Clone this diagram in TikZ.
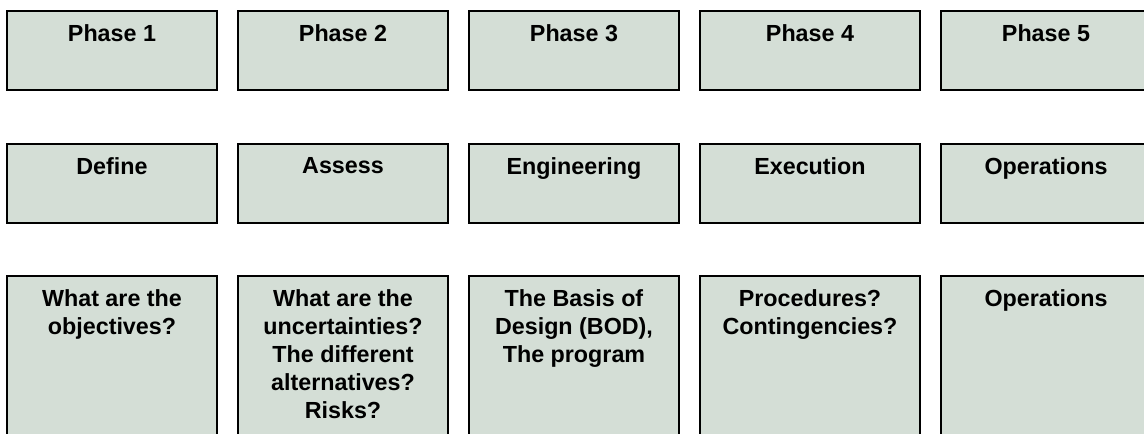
\documentclass[tikz,border=0pt]{standalone}
\usepackage{fontspec}
\setmainfont{Liberation Sans}
\usetikzlibrary{positioning}
\definecolor{boxfill}{RGB}{212,222,214}
\tikzset{
    %Define style for the boxes
    stagebox/.style={
           rectangle,
           draw=black, line width=2pt,
           fill=boxfill,
           minimum width=210pt,
           minimum height=79pt,
           inner sep=0pt},
    tallbox/.style={
           stagebox,
           minimum height=190pt},
    %Define style for the text at the top of a box
    boxtext/.style={
           anchor=north,
           inner sep=0pt,
           yshift=-14pt,
           align=center,
           font=\fontsize{23.3}{28}\selectfont\bfseries}
}
\begin{document}
\begin{tikzpicture}[x=1pt,y=1pt,node distance=20pt and 19pt]
\useasboundingbox (0,0) rectangle (1144,-434);
\clip (0,0) rectangle (1144,-434);

 %phases
\node[stagebox, anchor=north west, label={[boxtext]north:Phase 1}](p1) at (6,-10){};
\node[stagebox, right=of p1, label={[boxtext]north:Phase 2}](p2){};
\node[stagebox, right=of p2, label={[boxtext]north:Phase 3}](p3){};
\node[stagebox, right=of p3, minimum width=220pt, label={[boxtext]north:Phase 4}](p4){};
\node[stagebox, right=of p4, label={[boxtext]north:Phase 5}](p5){};

 %stages
\node[stagebox, below=52pt of p1, label={[boxtext]north:Define}](s1){};
\node[stagebox, below=52pt of p2, label={[boxtext]north:Assess}](s2){};
\node[stagebox, below=52pt of p3, label={[boxtext]north:Engineering}](s3){};
\node[stagebox, below=52pt of p4, minimum width=220pt, label={[boxtext]north:Execution}](s4){};
\node[stagebox, below=52pt of p5, label={[boxtext]north:Operations}](s5){};

 %questions
\node[tallbox, below=51pt of s1.south, anchor=north,
    label={[boxtext]north:What are the\\objectives?}](q1){};
\node[tallbox, below=51pt of s2.south, anchor=north,
    label={[boxtext]north:What are the\\uncertainties?\\The different\\alternatives?\\Risks?}](q2){};
\node[tallbox, below=51pt of s3.south, anchor=north,
    label={[boxtext]north:The Basis of\\Design (BOD),\\The program}](q3){};
\node[tallbox, below=51pt of s4.south, anchor=north, minimum width=220pt,
    label={[boxtext]north:Procedures?\\Contingencies?}](q4){};
\node[tallbox, below=51pt of s5.south, anchor=north,
    label={[boxtext]north:Operations}](q5){};

\end{tikzpicture}
\end{document}
